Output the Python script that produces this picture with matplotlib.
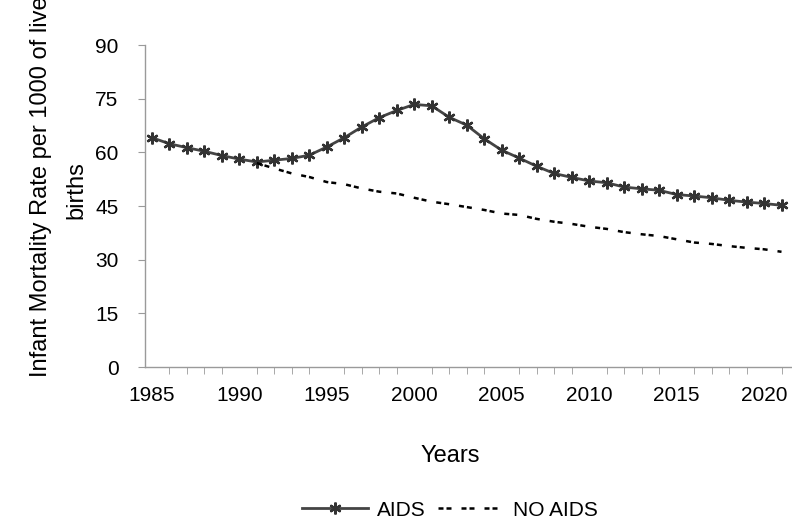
import matplotlib
matplotlib.use("Agg")
import matplotlib.pyplot as plt

plt.rcParams['font.family'] = ['Liberation Sans', 'DejaVu Sans']

# data
years_aids = list(range(1985, 2022))
aids = [64.1, 62.4, 61.3, 60.3, 59.1, 58.1, 57.3, 57.8, 58.3, 59.2,
        61.5, 64.1, 67.1, 69.7, 71.7, 73.4, 73.0, 69.8, 67.6, 63.8,
        60.6, 58.4, 56.1, 54.1, 53.0, 52.0, 51.5, 50.3, 49.8, 49.4,
        48.2, 47.8, 47.3, 46.6, 46.1, 45.7, 45.2]

years_noaids = list(range(1991, 2022))
no_aids = [57.0, 55.5, 54.1, 53.1, 51.7, 51.1, 49.9, 49.0, 48.5, 47.3,
           46.2, 45.5, 44.7, 43.9, 42.9, 42.5, 41.4, 40.6, 40.0, 39.2,
           38.6, 37.7, 37.1, 36.6, 35.7, 34.8, 34.4, 33.8, 33.3, 32.9,
           32.2]

yticks = [0, 15, 30, 45, 60, 75, 90]
xticks = [1985, 1990, 1995, 2000, 2005, 2010, 2015, 2020]

fig = plt.figure(figsize=(7.92, 5.27), dpi=100)
ax = fig.add_axes([0.183, 0.3036, 0.817, 0.611])

ax.plot(years_aids, aids, color="#444444", lw=2, marker=(6, 2, 0),
        markersize=8.5, markeredgewidth=1.7, markeredgecolor="#333333",
        label="AIDS")
ax.plot(years_noaids, no_aids, color="black", lw=1.8,
        ls=(0, (2, 1.2, 2, 4)), label="NO AIDS")

ax.set_xlim(1984.6, 2021.6)
ax.set_ylim(0, 90)
ax.set_yticks(yticks)
ax.set_xticks(xticks)
ax.set_xticks(range(1985, 2022), minor=True)

for s in ["top", "right"]:
    ax.spines[s].set_visible(False)
for s in ["left", "bottom"]:
    ax.spines[s].set_color("#9a9a9a")
    ax.spines[s].set_linewidth(1)

ax.tick_params(axis="y", direction="out", length=5, color="#9a9a9a",
               labelsize=15, pad=14)
ax.tick_params(axis="x", which="major", direction="out", length=0,
               labelsize=15, pad=14)
ax.tick_params(axis="x", which="minor", direction="out", length=5,
               color="#9a9a9a")

# y label is cut at the top edge like in the source
fig.text(0.052, 0.645, "Infant Mortality Rate per 1000 of live",
         rotation=90, ha="center", va="center", fontsize=17)
fig.text(0.097, 0.64, "births", rotation=90, ha="center", va="center",
         fontsize=17)
fig.text(0.568, 0.135, "Years", ha="center", va="center", fontsize=17)

fig.legend(loc="center", bbox_to_anchor=(0.568, 0.032), ncol=2,
           frameon=False, fontsize=15, handlelength=3.2,
           columnspacing=0.6, handletextpad=0.4)

fig.savefig("out.png", dpi=100)
